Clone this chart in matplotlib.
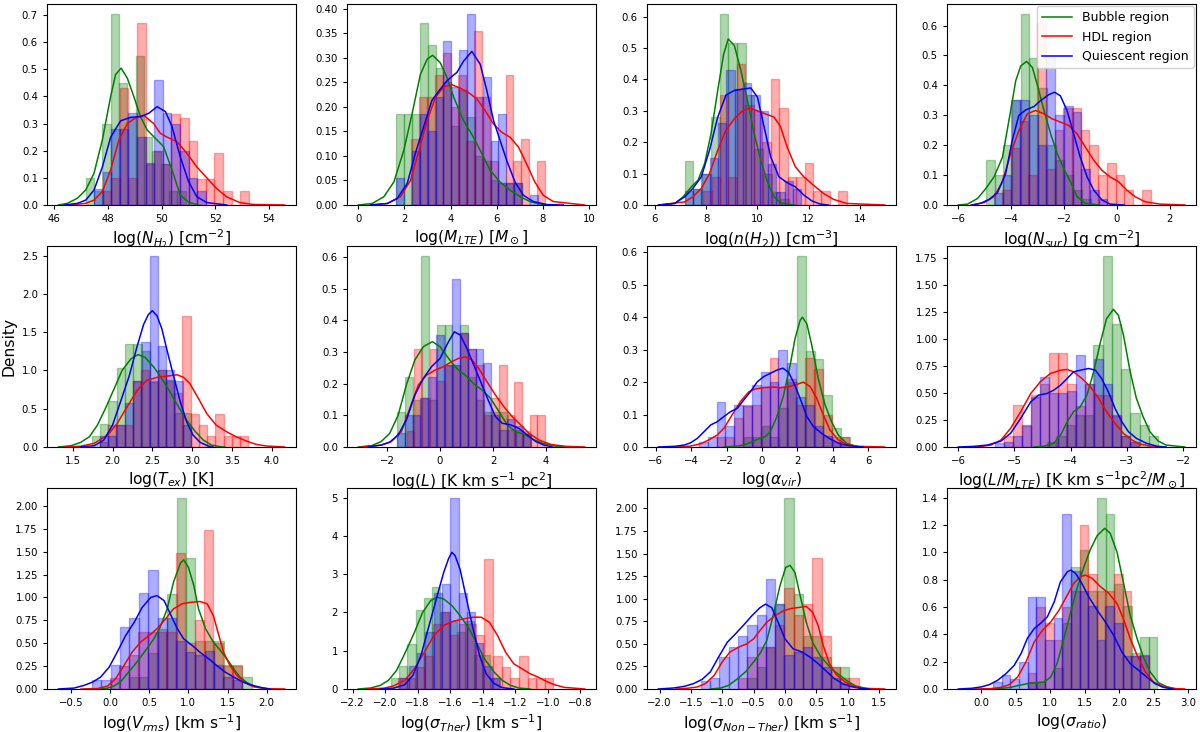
import numpy as np
import matplotlib
matplotlib.use("Agg")
import matplotlib.pyplot as plt
from matplotlib.ticker import MultipleLocator

GROUPS = ["Bubble region", "HDL region", "Quiescent region"]
COLORS = ["green", "red", "blue"]

XLABELS = [
    r"log($N_{H_2}$) [cm$^{-2}$]",
    r"log($M_{LTE}$) [$M_\odot$]",
    r"log($n(H_2)$) [cm$^{-3}$]",
    r"log($N_{sur}$) [g cm$^{-2}$]",
    r"log($T_{ex}$) [K]",
    r"log($L$) [K km s$^{-1}$ pc$^2$]",
    r"log($\alpha_{vir}$)",
    r"log($L/M_{LTE}$) [K km s$^{-1}$pc$^2$/$M_\odot$]",
    r"log($V_{rms}$) [km s$^{-1}$]",
    r"log($\sigma_{Ther}$) [km s$^{-1}$]",
    r"log($\sigma_{Non-Ther}$) [km s$^{-1}$]",
    r"log($\sigma_{ratio}$)",
]

# ---------- histogram data: (first bin edge, bin width, densities) ----------
P1_G_HIST = (47.17, 0.31, [0.10, 0.05, 0.30, 0.705, 0.45, 0.32, 0.55, 0.25, 0.20, 0.15, 0.05, 0.05])
P1_R_HIST = (47.80, 0.32, [0.05, 0.10, 0.43, 0.10, 0.67, 0.15, 0.20, 0.15, 0.335, 0.32, 0.235, 0.095, 0.095, 0.19, 0.05, 0.0, 0.05])
P1_B_HIST = (47.48, 0.32, [0.06, 0.12, 0.28, 0.28, 0.34, 0.25, 0.155, 0.46, 0.34, 0.30, 0.20, 0.10, 0.05])

P2_G_HIST = (1.65, 0.34, [0.185, 0.185, 0.185, 0.37, 0.325, 0.28, 0.25, 0.16, 0.235, 0.18, 0.10, 0.09, 0.05, 0.045, 0.045, 0.045])
P2_R_HIST = (2.30, 0.34, [0.135, 0.22, 0.22, 0.265, 0.31, 0.20, 0.265, 0.13, 0.355, 0.22, 0.09, 0.045, 0.265, 0.09, 0.135, 0.0, 0.09])
P2_B_HIST = (1.65, 0.34, [0.055, 0.0, 0.11, 0.185, 0.15, 0.22, 0.334, 0.24, 0.315, 0.39, 0.22, 0.26, 0.13, 0.185, 0.045, 0.045, 0.0, 0.02])

P3_G_HIST = (7.16, 0.34, [0.14, 0.05, 0.10, 0.28, 0.61, 0.515, 0.515, 0.35, 0.18, 0.10, 0.04, 0.02])
P3_R_HIST = (7.88, 0.33, [0.045, 0.09, 0.35, 0.09, 0.45, 0.32, 0.30, 0.20, 0.40, 0.31, 0.09, 0.09, 0.135, 0.045, 0.045, 0.0, 0.045])
P3_B_HIST = (7.16, 0.325, [0.045, 0.05, 0.10, 0.15, 0.26, 0.43, 0.37, 0.39, 0.35, 0.30, 0.13, 0.04, 0.075, 0.05])

P4_G_HIST = (-4.96, 0.33, [0.15, 0.10, 0.20, 0.35, 0.64, 0.49, 0.39, 0.20, 0.15, 0.10, 0.05, 0.02])
P4_R_HIST = (-4.34, 0.33, [0.05, 0.19, 0.28, 0.10, 0.61, 0.12, 0.25, 0.325, 0.325, 0.25, 0.20, 0.10, 0.14, 0.10, 0.05, 0.0, 0.05])
P4_B_HIST = (-4.65, 0.33, [0.04, 0.10, 0.35, 0.35, 0.30, 0.20, 0.49, 0.30, 0.33, 0.31, 0.12, 0.05, 0.02])

P5_G_HIST = (1.74, 0.104, [0.14, 0.30, 0.60, 1.03, 1.35, 1.35, 1.25, 0.85, 1.0, 0.87, 0.45, 0.45])
P5_R_HIST = (1.84, 0.1035, [0.07, 0.29, 0.29, 0.29, 0.86, 1.0, 0.86, 1.0, 0.86, 0.71, 1.71, 0.43, 0.29, 0.14, 0.43, 0.14, 0.14, 0.14])
P5_B_HIST = (1.84, 0.104, [0.14, 0.14, 0.29, 0.57, 0.86, 1.37, 2.5, 1.32, 1.0, 0.86, 0.29])

P6_G_HIST = (-1.61, 0.297, [0.11, 0.22, 0.15, 0.605, 0.15, 0.385, 0.385, 0.26, 0.385, 0.22, 0.15, 0.11, 0.11, 0.11, 0.055, 0.055, 0.04])
P6_R_HIST = (-1.26, 0.29, [0.05, 0.31, 0.155, 0.31, 0.21, 0.26, 0.26, 0.36, 0.31, 0.26, 0.10, 0.155, 0.26, 0.10, 0.205, 0.05, 0.10, 0.10])
P6_B_HIST = (-1.63, 0.297, [0.045, 0.10, 0.10, 0.155, 0.22, 0.355, 0.26, 0.53, 0.36, 0.31, 0.31, 0.265, 0.10, 0.055, 0.09, 0.065, 0.04])

P7_G_HIST = (-1.03, 0.50, [0.03, 0.03, 0.065, 0.03, 0.12, 0.20, 0.59, 0.295, 0.27, 0.16, 0.06, 0.03])
P7_R_HIST = (-2.57, 0.50, [0.03, 0.03, 0.09, 0.13, 0.13, 0.185, 0.275, 0.185, 0.21, 0.13, 0.275, 0.24, 0.10, 0.03, 0.03])
P7_B_HIST = (-3.57, 0.50, [0.015, 0.03, 0.14, 0.065, 0.13, 0.125, 0.19, 0.23, 0.20, 0.30, 0.26, 0.155, 0.13, 0.065, 0.035, 0.015, 0.01])

P8_G_HIST = (-4.42, 0.165, [0.05, 0.10, 0.20, 0.30, 0.30, 0.94, 1.77, 1.14, 0.72, 0.31, 0.20, 0.10])
P8_R_HIST = (-5.19, 0.16, [0.10, 0.385, 0.19, 0.48, 0.58, 0.865, 0.865, 0.58, 0.38, 0.58, 0.48, 0.48, 0.29, 0.10, 0.05])
P8_B_HIST = (-5.35, 0.16, [0.04, 0.05, 0.10, 0.20, 0.46, 0.65, 0.50, 0.50, 0.52, 0.855, 0.58, 0.81, 0.58, 0.30, 0.10, 0.05])

P9_G_HIST = (0.25, 0.12, [0.13, 0.13, 0.39, 0.65, 1.04, 2.09, 1.43, 0.52, 0.52, 0.52, 0.26, 0.26, 0.13])
P9_R_HIST = (0.0, 0.12, [0.12, 0.25, 0.37, 0.62, 0.62, 0.62, 0.62, 1.49, 0.5, 0.75, 1.74, 0.5, 0.25, 0.25])
P9_B_HIST = (-0.233, 0.12, [0.10, 0.10, 0.26, 0.675, 0.78, 1.05, 1.30, 0.78, 0.78, 0.52, 0.40, 0.37, 0.41, 0.26, 0.13, 0.10])

P10_G_HIST = (-1.966, 0.051, [0.30, 0.60, 1.18, 2.07, 2.37, 2.66, 2.0, 1.78, 1.48, 1.78, 0.89, 0.89, 0.30])
P10_R_HIST = (-1.920, 0.053, [0.28, 0.28, 0.57, 0.85, 1.70, 2.0, 1.42, 1.70, 1.70, 1.42, 3.40, 0.85, 0.57, 0.28, 0.85, 0.28, 0.28, 0.28])
P10_B_HIST = (-1.906, 0.051, [0.30, 0.60, 0.95, 1.50, 2.50, 2.73, 5.0, 2.50, 2.0, 1.2, 0.60, 0.30])

P11_G_HIST = (-0.602, 0.148, [0.12, 0.24, 0.47, 0.94, 2.12, 1.05, 0.59, 0.59, 0.35, 0.24, 0.24])
P11_R_HIST = (-0.749, 0.148, [0.12, 0.35, 0.47, 0.47, 0.71, 1.12, 0.82, 0.94, 1.45, 0.59, 0.24, 0.12, 0.12])
P11_B_HIST = (-1.341, 0.148, [0.09, 0.12, 0.35, 0.47, 0.59, 0.71, 0.82, 1.22, 0.94, 0.38, 0.41, 0.47, 0.35, 0.24, 0.12, 0.06])

P12_G_HIST = (0.68, 0.125, [0.05, 0.05, 0.0, 0.15, 0.48, 0.89, 1.02, 0.72, 1.40, 1.28, 0.77, 0.61, 0.26, 0.38, 0.38])
P12_R_HIST = (0.676, 0.125, [0.12, 0.60, 0.48, 0.36, 0.60, 0.72, 1.20, 0.84, 0.72, 0.72, 0.84, 0.72, 0.24, 0.24])
P12_B_HIST = (0.176, 0.125, [0.05, 0.10, 0.07, 0.20, 0.67, 0.67, 0.36, 0.52, 1.28, 0.86, 0.72, 0.61, 0.36, 0.61, 0.48, 0.24, 0.24, 0.25])

# ---------- KDE curves (x, density) ----------
P1_G_KX = [46.15, 46.49, 46.86, 47.17, 47.48, 47.79, 48.10, 48.28, 48.49, 48.72, 48.96, 49.21, 49.46, 49.77, 50.07, 50.38, 50.69, 51.0, 51.37]
P1_G_KY = [0, 0.006, 0.025, 0.055, 0.117, 0.24, 0.40, 0.48, 0.504, 0.467, 0.40, 0.325, 0.276, 0.245, 0.215, 0.13, 0.037, 0.01, 0]
P1_R_KX = [46.56, 47.17, 47.48, 47.79, 48.10, 48.41, 48.72, 49.09, 49.33, 49.70, 49.95, 50.20, 50.57, 50.94, 51.31, 51.68, 52.05, 52.42, 52.91, 53.40, 54.58]
P1_R_KY = [0, 0.006, 0.018, 0.05, 0.13, 0.24, 0.30, 0.325, 0.33, 0.30, 0.264, 0.25, 0.233, 0.19, 0.14, 0.10, 0.06, 0.03, 0.009, 0.002, 0]
P1_B_KX = [46.37, 46.86, 47.17, 47.48, 47.79, 48.10, 48.47, 48.84, 49.21, 49.52, 49.83, 50.14, 50.38, 50.69, 51.0, 51.31, 51.68, 52.42]
P1_B_KY = [0, 0.006, 0.018, 0.055, 0.14, 0.25, 0.31, 0.323, 0.325, 0.338, 0.362, 0.344, 0.29, 0.178, 0.086, 0.03, 0.009, 0]

P2_G_KX = [0.0, 0.60, 1.11, 1.54, 1.97, 2.33, 2.69, 2.98, 3.22, 3.55, 3.84, 4.13, 4.56, 4.99, 5.35, 5.71, 6.14, 6.58, 7.01, 7.44, 7.87, 8.23]
P2_G_KY = [0, 0.003, 0.017, 0.047, 0.111, 0.186, 0.266, 0.297, 0.305, 0.29, 0.26, 0.22, 0.172, 0.138, 0.105, 0.071, 0.047, 0.03, 0.017, 0.007, 0.002, 0]
P2_R_KX = [0.53, 1.25, 1.83, 2.26, 2.62, 2.98, 3.34, 3.70, 4.06, 4.42, 4.78, 5.14, 5.50, 5.86, 6.22, 6.58, 6.94, 7.29, 7.65, 8.01, 8.45, 9.81]
P2_R_KY = [0, 0.003, 0.017, 0.05, 0.11, 0.172, 0.219, 0.241, 0.245, 0.238, 0.229, 0.216, 0.192, 0.165, 0.148, 0.138, 0.118, 0.084, 0.047, 0.02, 0.007, 0]
P2_B_KX = [0.53, 1.25, 1.68, 2.12, 2.47, 2.83, 3.19, 3.55, 3.84, 4.06, 4.27, 4.56, 4.92, 5.28, 5.57, 5.86, 6.14, 6.43, 6.79, 7.15, 7.58, 8.16, 8.88]
P2_B_KY = [0, 0.003, 0.013, 0.044, 0.105, 0.159, 0.213, 0.236, 0.253, 0.262, 0.27, 0.293, 0.313, 0.287, 0.233, 0.172, 0.132, 0.091, 0.047, 0.02, 0.007, 0.001, 0]

P3_G_KX = [6.26, 6.77, 7.10, 7.42, 7.68, 7.94, 8.19, 8.45, 8.68, 8.86, 9.10, 9.35, 9.61, 9.87, 10.13, 10.39, 10.65, 10.90, 11.42]
P3_G_KY = [0, 0.005, 0.026, 0.058, 0.079, 0.132, 0.228, 0.365, 0.48, 0.529, 0.508, 0.43, 0.333, 0.228, 0.143, 0.074, 0.026, 0.007, 0]
P3_R_KX = [6.13, 7.16, 7.48, 7.81, 8.13, 8.45, 8.77, 9.10, 9.42, 9.68, 10.0, 10.32, 10.65, 10.90, 11.16, 11.48, 11.81, 12.19, 12.58, 12.97, 13.48, 14.97]
P3_R_KY = [0, 0.01, 0.026, 0.053, 0.10, 0.175, 0.238, 0.275, 0.30, 0.309, 0.30, 0.29, 0.28, 0.25, 0.185, 0.122, 0.09, 0.063, 0.037, 0.018, 0.005, 0]
P3_B_KX = [6.15, 6.77, 7.16, 7.48, 7.81, 8.13, 8.45, 8.77, 9.10, 9.48, 9.74, 10.0, 10.26, 10.52, 10.84, 11.16, 11.48, 11.81, 12.13, 12.45, 12.77]
P3_B_KY = [0, 0.005, 0.026, 0.053, 0.09, 0.175, 0.28, 0.35, 0.365, 0.37, 0.373, 0.344, 0.249, 0.153, 0.09, 0.071, 0.058, 0.032, 0.013, 0.003, 0]

P4_G_KX = [-6.0, -5.65, -5.27, -4.96, -4.65, -4.33, -4.02, -3.83, -3.64, -3.42, -3.20, -3.02, -2.76, -2.51, -2.26, -2.01, -1.76, -1.51, -1.20, -0.70]
P4_G_KY = [0, 0.003, 0.022, 0.055, 0.094, 0.16, 0.316, 0.415, 0.465, 0.48, 0.46, 0.404, 0.316, 0.238, 0.172, 0.122, 0.078, 0.028, 0.006, 0]
P4_R_KX = [-5.52, -5.02, -4.65, -4.33, -4.02, -3.71, -3.39, -3.08, -2.76, -2.45, -2.14, -1.82, -1.51, -1.20, -0.88, -0.57, -0.26, 0.06, 0.37, 0.68, 1.06, 1.62, 2.56]
P4_R_KY = [0, 0.008, 0.028, 0.078, 0.172, 0.249, 0.305, 0.316, 0.305, 0.288, 0.277, 0.266, 0.238, 0.194, 0.15, 0.116, 0.094, 0.078, 0.05, 0.028, 0.011, 0.003, 0]
P4_B_KX = [-5.46, -5.15, -4.83, -4.52, -4.21, -3.96, -3.71, -3.45, -3.14, -2.89, -2.58, -2.36, -2.14, -1.89, -1.64, -1.39, -1.13, -0.88, -0.57, -0.26, 0.27]
P4_B_KY = [0, 0.006, 0.019, 0.041, 0.105, 0.216, 0.30, 0.318, 0.329, 0.349, 0.369, 0.377, 0.365, 0.316, 0.238, 0.16, 0.094, 0.05, 0.017, 0.003, 0]

P5_G_KX = [1.32, 1.48, 1.60, 1.71, 1.81, 1.91, 2.02, 2.12, 2.23, 2.32, 2.41, 2.52, 2.62, 2.72, 2.83, 2.93, 3.04, 3.14, 3.24, 3.35, 3.41]
P5_G_KY = [0, 0.017, 0.06, 0.134, 0.285, 0.50, 0.76, 1.0, 1.15, 1.207, 1.17, 1.04, 0.89, 0.72, 0.52, 0.35, 0.20, 0.09, 0.026, 0.005, 0]
P5_R_KX = [1.40, 1.60, 1.77, 1.94, 2.06, 2.18, 2.31, 2.43, 2.56, 2.68, 2.81, 2.89, 2.97, 3.08, 3.18, 3.30, 3.43, 3.55, 3.68, 3.80, 3.93, 4.16]
P5_R_KY = [0, 0.01, 0.048, 0.156, 0.31, 0.52, 0.74, 0.87, 0.91, 0.925, 0.943, 0.91, 0.83, 0.63, 0.44, 0.285, 0.20, 0.134, 0.078, 0.035, 0.013, 0]
P5_B_KX = [1.60, 1.77, 1.89, 2.0, 2.10, 2.21, 2.31, 2.39, 2.45, 2.50, 2.56, 2.62, 2.68, 2.77, 2.85, 2.93, 3.01, 3.10, 3.20, 3.26]
P5_B_KY = [0, 0.017, 0.09, 0.285, 0.59, 0.93, 1.32, 1.60, 1.73, 1.78, 1.71, 1.54, 1.28, 0.91, 0.59, 0.33, 0.156, 0.06, 0.013, 0]

P6_G_KX = [-3.08, -2.59, -2.22, -1.90, -1.58, -1.27, -0.95, -0.63, -0.29, 0.0, 0.32, 0.63, 0.95, 1.27, 1.58, 1.90, 2.22, 2.53, 2.85, 3.16, 3.48, 3.86, 4.37, 4.75]
P6_G_KY = [0, 0.004, 0.017, 0.043, 0.10, 0.196, 0.275, 0.317, 0.333, 0.317, 0.28, 0.248, 0.227, 0.20, 0.18, 0.154, 0.112, 0.07, 0.048, 0.04, 0.025, 0.012, 0.002, 0]
P6_R_KX = [-2.97, -2.22, -1.84, -1.46, -1.14, -0.82, -0.51, -0.19, 0.13, 0.44, 0.70, 0.95, 1.20, 1.46, 1.77, 2.09, 2.41, 2.72, 3.04, 3.35, 3.73, 4.18, 4.75, 5.45]
P6_R_KY = [0, 0.006, 0.017, 0.048, 0.122, 0.196, 0.227, 0.243, 0.254, 0.27, 0.28, 0.285, 0.275, 0.248, 0.206, 0.164, 0.127, 0.096, 0.07, 0.043, 0.022, 0.008, 0.002, 0]
P6_B_KX = [-2.72, -2.22, -1.90, -1.58, -1.27, -0.95, -0.63, -0.32, 0.0, 0.32, 0.54, 0.76, 1.01, 1.27, 1.58, 1.84, 2.09, 2.34, 2.66, 2.97, 3.29, 3.61, 3.92, 4.24]
P6_B_KY = [0, 0.006, 0.015, 0.038, 0.085, 0.164, 0.217, 0.254, 0.28, 0.333, 0.364, 0.354, 0.312, 0.259, 0.196, 0.143, 0.096, 0.075, 0.07, 0.059, 0.038, 0.017, 0.006, 0]

P7_G_KX = [-2.15, -1.59, -1.03, -0.56, -0.19, 0.19, 0.47, 0.84, 1.22, 1.59, 1.87, 2.15, 2.28, 2.53, 2.81, 3.18, 3.56, 3.93, 4.31, 4.78, 5.34, 5.71]
P7_G_KY = [0, 0.002, 0.006, 0.016, 0.025, 0.032, 0.047, 0.094, 0.16, 0.253, 0.335, 0.39, 0.40, 0.38, 0.314, 0.21, 0.13, 0.078, 0.037, 0.011, 0.002, 0]
P7_R_KX = [-4.78, -4.03, -3.46, -3.0, -2.53, -2.15, -1.69, -1.22, -0.75, -0.37, 0.09, 0.56, 1.03, 1.50, 1.97, 2.34, 2.72, 3.09, 3.46, 3.84, 4.31, 4.78, 5.43, 6.93]
P7_R_KY = [0, 0.003, 0.01, 0.022, 0.037, 0.058, 0.099, 0.14, 0.17, 0.179, 0.183, 0.185, 0.183, 0.186, 0.193, 0.20, 0.186, 0.15, 0.099, 0.052, 0.022, 0.008, 0.002, 0]
P7_B_KX = [-5.86, -4.96, -4.40, -4.03, -3.65, -3.28, -2.90, -2.53, -2.15, -1.78, -1.40, -1.03, -0.66, -0.28, 0.09, 0.47, 0.84, 1.18, 1.50, 1.78, 2.15, 2.53, 2.90, 3.37, 3.84, 4.40, 5.15, 5.71]
P7_B_KY = [0, 0.002, 0.006, 0.013, 0.027, 0.047, 0.068, 0.078, 0.094, 0.109, 0.119, 0.145, 0.17, 0.20, 0.217, 0.227, 0.237, 0.243, 0.23, 0.20, 0.15, 0.094, 0.063, 0.042, 0.025, 0.01, 0.002, 0]

P8_G_KX = [-4.65, -4.48, -4.30, -4.18, -4.06, -3.95, -3.83, -3.71, -3.59, -3.47, -3.36, -3.24, -3.15, -3.06, -2.94, -2.83, -2.71, -2.59, -2.44, -2.30, -1.97]
P8_G_KY = [0, 0.006, 0.034, 0.11, 0.234, 0.326, 0.372, 0.48, 0.695, 0.97, 1.187, 1.273, 1.218, 1.034, 0.695, 0.45, 0.28, 0.141, 0.055, 0.018, 0]
P8_R_KX = [-5.66, -5.42, -5.24, -5.07, -4.89, -4.71, -4.54, -4.36, -4.18, -4.06, -3.95, -3.80, -3.65, -3.50, -3.36, -3.21, -3.06, -2.91, -2.77, -2.59, -2.41]
P8_R_KY = [0, 0.018, 0.065, 0.172, 0.326, 0.495, 0.603, 0.68, 0.71, 0.717, 0.695, 0.634, 0.557, 0.449, 0.326, 0.218, 0.126, 0.065, 0.028, 0.008, 0]
P8_B_KX = [-6.0, -5.72, -5.48, -5.24, -5.07, -4.89, -4.71, -4.57, -4.42, -4.30, -4.18, -4.06, -3.95, -3.83, -3.68, -3.56, -3.45, -3.33, -3.21, -3.09, -2.97, -2.83, -2.65, -2.47, -2.30]
P8_B_KY = [0, 0.006, 0.018, 0.055, 0.126, 0.265, 0.418, 0.48, 0.495, 0.526, 0.572, 0.634, 0.695, 0.71, 0.726, 0.71, 0.634, 0.51, 0.357, 0.234, 0.141, 0.08, 0.034, 0.008, 0]

P9_G_KX = [-0.12, -0.03, 0.05, 0.14, 0.22, 0.31, 0.39, 0.47, 0.56, 0.64, 0.73, 0.81, 0.90, 0.94, 1.0, 1.07, 1.13, 1.22, 1.32, 1.41, 1.49, 1.58, 1.66, 1.75, 1.85, 2.0]
P9_G_KY = [0, 0.01, 0.033, 0.083, 0.167, 0.258, 0.348, 0.44, 0.548, 0.675, 0.875, 1.165, 1.376, 1.41, 1.33, 1.13, 0.875, 0.657, 0.512, 0.42, 0.33, 0.22, 0.13, 0.069, 0.025, 0]
P9_R_KX = [-0.37, -0.16, -0.03, 0.07, 0.18, 0.28, 0.39, 0.50, 0.60, 0.71, 0.81, 0.92, 1.03, 1.15, 1.24, 1.32, 1.39, 1.45, 1.53, 1.62, 1.72, 1.83, 2.0, 2.23]
P9_R_KY = [0, 0.005, 0.033, 0.11, 0.258, 0.40, 0.512, 0.584, 0.657, 0.766, 0.875, 0.93, 0.947, 0.955, 0.93, 0.80, 0.584, 0.40, 0.258, 0.149, 0.069, 0.025, 0.004, 0]
P9_B_KX = [-0.66, -0.46, -0.33, -0.22, -0.12, -0.01, 0.09, 0.20, 0.31, 0.41, 0.52, 0.60, 0.69, 0.77, 0.86, 0.94, 1.05, 1.15, 1.26, 1.36, 1.47, 1.58, 1.68, 1.79, 1.92, 2.04]
P9_B_KY = [0, 0.01, 0.04, 0.076, 0.13, 0.24, 0.40, 0.584, 0.73, 0.89, 1.0, 1.02, 0.965, 0.82, 0.657, 0.548, 0.475, 0.40, 0.33, 0.258, 0.185, 0.13, 0.083, 0.047, 0.018, 0]

P10_G_KX = [-2.165, -2.09, -2.03, -1.98, -1.93, -1.88, -1.82, -1.77, -1.72, -1.68, -1.64, -1.59, -1.54, -1.49, -1.44, -1.39, -1.33, -1.28, -1.23, -1.18, -1.11]
P10_G_KY = [0, 0.026, 0.095, 0.226, 0.486, 0.92, 1.48, 2.0, 2.31, 2.40, 2.35, 2.18, 1.92, 1.61, 1.22, 0.79, 0.44, 0.226, 0.095, 0.026, 0]
P10_R_KX = [-2.11, -2.01, -1.95, -1.88, -1.82, -1.76, -1.70, -1.64, -1.58, -1.52, -1.46, -1.41, -1.36, -1.31, -1.26, -1.21, -1.16, -1.11, -1.06, -1.01, -0.96, -0.90, -0.774]
P10_R_KY = [0, 0.02, 0.078, 0.226, 0.53, 0.96, 1.40, 1.66, 1.77, 1.83, 1.875, 1.875, 1.745, 1.40, 0.96, 0.66, 0.53, 0.40, 0.31, 0.20, 0.113, 0.043, 0]
P10_B_KX = [-2.03, -1.95, -1.88, -1.83, -1.78, -1.73, -1.68, -1.64, -1.61, -1.59, -1.57, -1.54, -1.50, -1.46, -1.42, -1.38, -1.33, -1.28, -1.21]
P10_B_KY = [0, 0.02, 0.11, 0.356, 0.877, 1.66, 2.44, 3.05, 3.41, 3.57, 3.48, 3.13, 2.35, 1.57, 0.877, 0.40, 0.14, 0.035, 0]

P11_G_KX = [-1.19, -1.03, -0.90, -0.77, -0.63, -0.50, -0.40, -0.29, -0.19, -0.08, 0.01, 0.08, 0.16, 0.23, 0.34, 0.44, 0.56, 0.67, 0.77, 0.88, 1.0, 1.13, 1.34]
P11_G_KY = [0, 0.01, 0.04, 0.107, 0.19, 0.30, 0.39, 0.537, 0.81, 1.143, 1.345, 1.37, 1.29, 1.07, 0.74, 0.518, 0.37, 0.28, 0.206, 0.15, 0.085, 0.033, 0]
P11_R_KX = [-1.74, -1.56, -1.40, -1.27, -1.13, -1.0, -0.88, -0.74, -0.61, -0.50, -0.40, -0.29, -0.16, -0.02, 0.11, 0.23, 0.34, 0.44, 0.53, 0.61, 0.71, 0.82, 0.96, 1.09, 1.24, 1.59]
P11_R_KY = [0, 0.008, 0.022, 0.059, 0.15, 0.30, 0.408, 0.463, 0.50, 0.555, 0.647, 0.74, 0.81, 0.868, 0.893, 0.904, 0.915, 0.85, 0.70, 0.48, 0.28, 0.158, 0.077, 0.033, 0.008, 0]
P11_B_KX = [-2.02, -1.78, -1.61, -1.46, -1.32, -1.19, -1.06, -0.92, -0.79, -0.67, -0.53, -0.40, -0.31, -0.21, -0.11, 0.0, 0.13, 0.27, 0.40, 0.53, 0.67, 0.79, 0.92, 1.06, 1.22, 1.34]
P11_B_KY = [0, 0.011, 0.029, 0.059, 0.107, 0.19, 0.353, 0.518, 0.61, 0.70, 0.81, 0.90, 0.94, 0.90, 0.74, 0.555, 0.445, 0.41, 0.353, 0.28, 0.19, 0.114, 0.059, 0.026, 0.005, 0]

P12_G_KX = [0.10, 0.29, 0.43, 0.55, 0.67, 0.79, 0.91, 1.01, 1.10, 1.20, 1.30, 1.39, 1.49, 1.58, 1.68, 1.79, 1.87, 1.97, 2.06, 2.16, 2.26, 2.35, 2.45, 2.57, 2.69, 2.83]
P12_G_KY = [0, 0.004, 0.012, 0.027, 0.039, 0.046, 0.05, 0.088, 0.186, 0.37, 0.564, 0.735, 0.894, 1.016, 1.12, 1.175, 1.14, 1.0, 0.784, 0.54, 0.37, 0.235, 0.125, 0.046, 0.017, 0]
P12_R_KX = [-0.10, 0.14, 0.29, 0.41, 0.53, 0.65, 0.77, 0.89, 1.01, 1.13, 1.25, 1.34, 1.44, 1.51, 1.61, 1.73, 1.85, 1.97, 2.06, 2.16, 2.26, 2.38, 2.50, 2.64, 2.78, 2.95]
P12_R_KY = [0, 0.003, 0.012, 0.032, 0.088, 0.198, 0.345, 0.43, 0.491, 0.577, 0.687, 0.772, 0.821, 0.833, 0.809, 0.748, 0.70, 0.625, 0.516, 0.37, 0.247, 0.125, 0.051, 0.017, 0.004, 0]
P12_B_KX = [-0.33, -0.14, 0.0, 0.12, 0.24, 0.36, 0.48, 0.58, 0.67, 0.77, 0.86, 0.96, 1.06, 1.15, 1.25, 1.30, 1.37, 1.46, 1.56, 1.68, 1.80, 1.92, 2.04, 2.16, 2.28, 2.40, 2.52, 2.64, 2.78]
P12_B_KY = [0, 0.005, 0.015, 0.032, 0.064, 0.112, 0.173, 0.26, 0.37, 0.442, 0.479, 0.528, 0.638, 0.784, 0.857, 0.87, 0.845, 0.772, 0.674, 0.577, 0.491, 0.393, 0.271, 0.186, 0.137, 0.088, 0.039, 0.012, 0]

G = globals()
PANELS = []
for i in range(1, 13):
    hists = [G[f"P{i}_{k}_HIST"] for k in "GRB"]
    kdes = [(G[f"P{i}_{k}_KX"], G[f"P{i}_{k}_KY"]) for k in "GRB"]
    PANELS.append((hists, kdes))

# ---------- styling / layout ----------
X_STEP = [2, 2, 2, 2, 0.5, 2, 2, 1, 0.5, 0.2, 0.5, 0.5]
Y_STEP = [0.1, 0.05, 0.1, 0.1, 0.5, 0.1, 0.1, 0.25, 0.25, 1, 0.25, 0.2]

fig = plt.figure(figsize=(12, 7.32), dpi=100)
W, H = 1200.0, 732.0
col_left = [47, 347, 647, 947]
row_top = [4, 246, 488]
ax_w, ax_h = 249, 201

axes = []
for i, (hists, kdes) in enumerate(PANELS):
    r, c = divmod(i, 4)
    ax = fig.add_axes([col_left[c] / W, 1 - (row_top[r] + ax_h) / H, ax_w / W, ax_h / H])
    for (x0, w, h), col in zip(hists, COLORS):
        h = np.asarray(h, dtype=float)
        edges = x0 + w * np.arange(len(h))
        ax.bar(edges, h, width=w, align="edge", color=col, alpha=0.32,
               edgecolor=col, linewidth=1.0)
    for (kx, ky), col, lab in zip(kdes, COLORS, GROUPS):
        ax.plot(kx, ky, color=col, lw=1.1, label=lab)
    ax.xaxis.set_major_locator(MultipleLocator(X_STEP[i]))
    ax.yaxis.set_major_locator(MultipleLocator(Y_STEP[i]))
    ax.tick_params(labelsize=7.3, length=3)
    ax.set_xlabel(XLABELS[i], fontsize=11.2, labelpad=3)
    ax.margins(x=0.05)
    axes.append(ax)

axes[4].set_ylabel("Density", fontsize=11.2)
axes[3].legend(loc="upper right", fontsize=9, handlelength=2.4,
               borderaxespad=0.2, framealpha=0.9)

fig.savefig("out.png", dpi=100)
